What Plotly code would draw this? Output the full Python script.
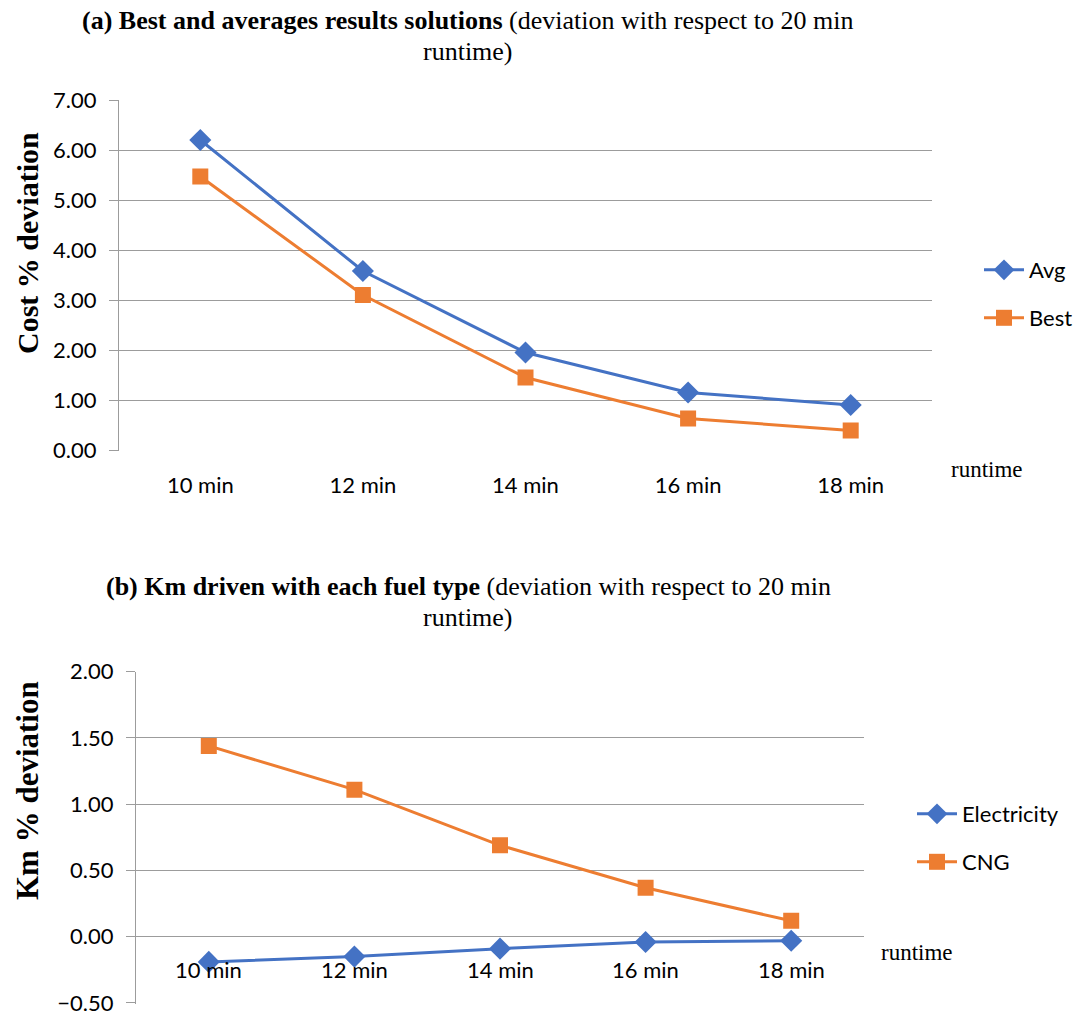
import plotly.graph_objects as go

categories = ["10 min", "12 min", "14 min", "16 min", "18 min"]
avg_values = [6.20, 3.58, 1.95, 1.15, 0.90]
best_values = [5.47, 3.10, 1.45, 0.63, 0.39]
electricity_values = [-0.19, -0.15, -0.09, -0.04, -0.03]
cng_values = [1.44, 1.11, 0.69, 0.37, 0.12]
top_ticks = [0, 1, 2, 3, 4, 5, 6, 7]
bottom_ticks = [-0.5, 0, 0.5, 1.0, 1.5, 2.0]

W, H = 1083, 1016
BLUE = "#4472C4"
ORANGE = "#ED7D31"
GRID = "#9c9c9c"
SANS = "Lato, Carlito, 'Open Sans', sans-serif"
SERIF = "'Liberation Serif', 'Times New Roman', serif"

def px(x):
    return x / W

def py(y):
    return 1 - y / H

fig = go.Figure()

def add_series(x, y, name, color, symbol, size, xa, ya, leg):
    fig.add_trace(go.Scatter(x=x, y=y, name=name, mode="lines+markers",
                             line=dict(color=color, width=3),
                             marker=dict(symbol=symbol, size=size, color=color),
                             xaxis=xa, yaxis=ya, legend=leg))

add_series(categories, avg_values, "Avg", BLUE, "diamond", 17, "x", "y", "legend")
add_series(categories, best_values, "Best", ORANGE, "square", 16, "x", "y", "legend2")
add_series(categories, electricity_values, "Electricity", BLUE, "diamond", 17, "x2", "y2", "legend3")
add_series(categories, cng_values, "CNG", ORANGE, "square", 16, "x2", "y2", "legend4")

top_dom_y = [py(450.5), py(100)]
bot_dom_y = [py(1003.5), py(671.7)]
bot_range = [-0.504, 2.0]

axis_font = dict(family=SANS, size=22, color="#000000")
leg_font = dict(family=SANS, size=22, color="#000000")

def legend_at(x, y):
    return dict(x=px(x), y=py(y), xanchor="left", yanchor="middle", font=leg_font,
                bgcolor="rgba(0,0,0,0)", itemwidth=40)

fig.update_layout(
    width=W, height=H,
    margin=dict(l=0, r=0, t=0, b=0, pad=0),
    paper_bgcolor="white", plot_bgcolor="white",
    xaxis=dict(domain=[px(119), px(932)], anchor="y", type="category", automargin=False,
               range=[-0.5, 4.5], showgrid=False, showline=False, zeroline=False,
               ticks="", tickfont=axis_font, ticklabelstandoff=19),
    yaxis=dict(domain=top_dom_y, anchor="x", range=[-0.01, 7], tickvals=top_ticks, automargin=False,
               tickformat=".2f", showgrid=True, gridcolor=GRID, gridwidth=1.3,
               zeroline=False, showline=True, linecolor=GRID, linewidth=1.3,
               ticks="outside", ticklen=9, tickcolor=GRID, tickwidth=1.3,
               tickfont=axis_font, ticklabelstandoff=8, ticklabeloverflow="allow"),
    xaxis2=dict(domain=[px(136), px(864)], anchor="y2", automargin=False,
                type="category", range=[-0.5, 4.5], showgrid=False, showline=False,
                zeroline=False, ticks="", showticklabels=False),
    yaxis2=dict(domain=bot_dom_y, anchor="x2", range=bot_range, tickvals=bottom_ticks, automargin=False,
                tickformat=".2f", showgrid=True, gridcolor=GRID, gridwidth=1.3,
                zeroline=False, showline=True, linecolor=GRID, linewidth=1.3,
                ticks="outside", ticklen=9, tickcolor=GRID, tickwidth=1.3,
                tickfont=axis_font, ticklabelstandoff=8, ticklabeloverflow="allow"),
    legend=legend_at(979, 270),
    legend2=legend_at(979, 318),
    legend3=legend_at(912, 814),
    legend4=legend_at(912, 862),
    showlegend=True,
)

# category labels of chart (b) sit next to the 0.00 line, as in the original
for c in categories:
    fig.add_annotation(text=c, x=c, y=0, xref="x2", yref="y2", xanchor="center",
                       yanchor="middle", yshift=-33, showarrow=False, font=axis_font)

title_font = dict(family=SERIF, size=26, color="#000000")
def title_lines(line1, line2, y1, y2):
    fig.add_annotation(text=line1, x=px(468), y=py(y1), xref="paper", yref="paper",
                       xanchor="center", yanchor="middle", showarrow=False, font=title_font)
    fig.add_annotation(text=line2, x=px(468), y=py(y2), xref="paper", yref="paper",
                       xanchor="center", yanchor="middle", showarrow=False, font=title_font)

title_lines("<b>(a) Best and averages results solutions</b> (deviation with respect to 20 min",
            "runtime)", 21, 51)
title_lines("<b>(b) Km driven with each fuel type</b> (deviation with respect to 20 min",
            "runtime)", 586, 617)

fig.add_annotation(text="<b>Cost % deviation</b>", textangle=-90,
                   x=px(27), y=py(243), xref="paper", yref="paper", xanchor="center", yanchor="middle",
                   showarrow=False, font=dict(family=SERIF, size=30, color="#000000"))
fig.add_annotation(text="<b>Km % deviation</b>", textangle=-90,
                   x=px(27), y=py(791), xref="paper", yref="paper", xanchor="center", yanchor="middle",
                   showarrow=False, font=dict(family=SERIF, size=31, color="#000000"))

runtime_font = dict(family=SERIF, size=23, color="#000000")
fig.add_annotation(text="runtime", x=px(949), y=py(469), xref="paper", yref="paper",
                   xanchor="left", yanchor="middle", showarrow=False, font=runtime_font)
fig.add_annotation(text="runtime", x=px(879), y=py(952), xref="paper", yref="paper",
                   xanchor="left", yanchor="middle", showarrow=False, font=runtime_font)

fig.write_html("out.html", config={"displayModeBar": False},
               post_script="document.body.style.margin='0';document.body.style.overflow='hidden';")
